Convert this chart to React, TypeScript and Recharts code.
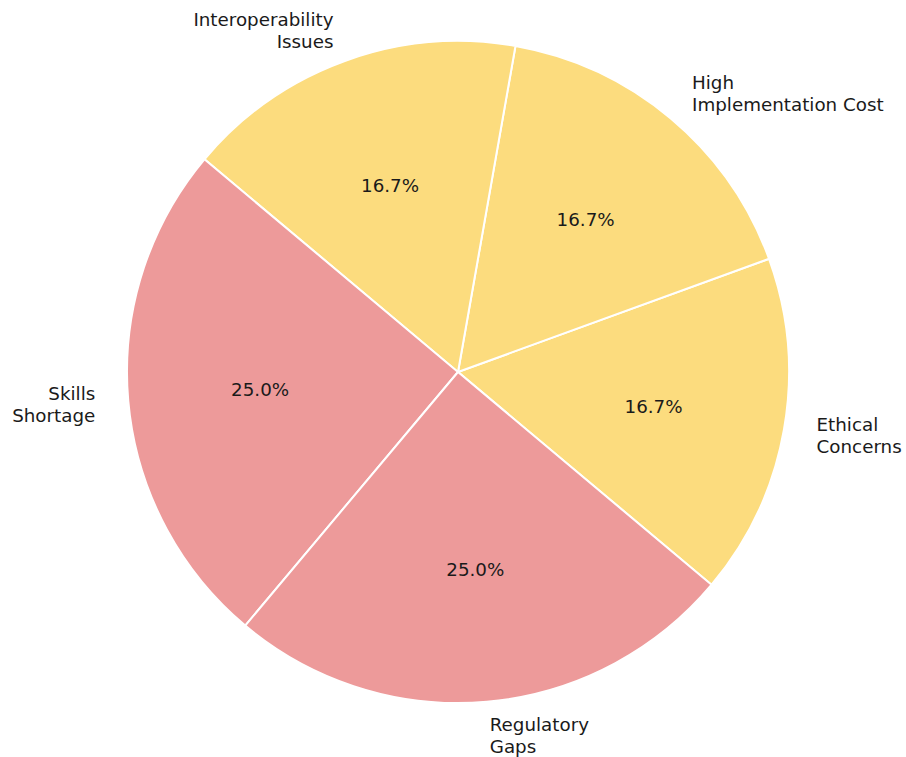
import React from 'react';
import { PieChart, Pie, Cell } from 'recharts';

const categories = ['Ethical\nConcerns', 'High\nImplementation Cost', 'Interoperability\nIssues', 'Skills\nShortage', 'Regulatory\nGaps'];
const values = [2, 2, 2, 3, 3];
const colors = ['#FCDC7E', '#FCDC7E', '#FCDC7E', '#ED9A9A', '#ED9A9A'];

const data = categories.map((name, i) => ({ name, value: values[i] }));

const RAD = Math.PI / 180;
const FONT = 'DejaVu Sans, sans-serif';
const FS = 18.3;
const LH = 22;

const renderLabel = (props: any) => {
  const { cx, cy, midAngle, outerRadius, percent, name, index } = props;
  const cos = Math.cos(-midAngle * RAD);
  const sin = Math.sin(-midAngle * RAD);
  const rOut = outerRadius * 1.1;
  const rIn = outerRadius * 0.6;
  const ox = cx + rOut * cos;
  const oy = cy + rOut * sin;
  const ix = cx + rIn * cos;
  const iy = cy + rIn * sin;
  const lines = String(name).split('\n');
  const anchor = ox >= cx ? 'start' : 'end';
  const startY = oy - ((lines.length - 1) * LH) / 2;
  return (
    <g key={`lbl-${index}`}>
      <text x={ox} y={startY} textAnchor={anchor} dominantBaseline="central" fontFamily={FONT} fontSize={FS} fill="#1a1a1a">
        {lines.map((l, j) => (
          <tspan key={j} x={ox} y={startY + j * LH}>{l}</tspan>
        ))}
      </text>
      <text x={ix} y={iy} textAnchor="middle" dominantBaseline="central" fontFamily={FONT} fontSize={FS} fill="#1a1a1a">
        {(percent * 100).toFixed(1) + '%'}
      </text>
    </g>
  );
};

export default function App() {
  return (
    <div style={{ position: 'absolute', left: 0, top: 0, background: '#fff' }}>
      <PieChart width={906} height={757} margin={{ top: 0, right: 0, bottom: 0, left: 0 }}>
        <Pie
          data={data}
          dataKey="value"
          nameKey="name"
          cx={458}
          cy={372}
          outerRadius={331}
          startAngle={-40}
          endAngle={320}
          stroke="#fff"
          strokeWidth={2}
          label={renderLabel}
          labelLine={false}
          isAnimationActive={false}
        >
          {data.map((d, i) => (
            <Cell key={i} fill={colors[i]} />
          ))}
        </Pie>
      </PieChart>
    </div>
  );
}
